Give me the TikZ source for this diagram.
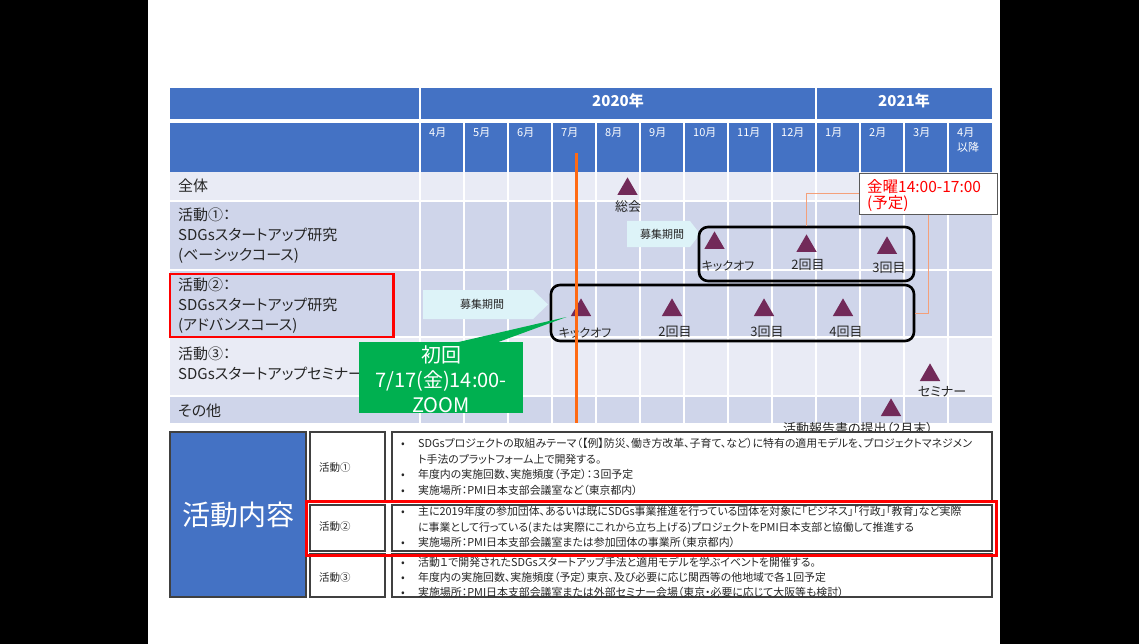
\documentclass[tikz,border=0pt]{standalone}
\usepackage{fontspec}
\setmainfont{Noto Sans CJK JP}[RawFeature=+palt]
\usetikzlibrary{shapes.geometric}
\definecolor{hdr}{HTML}{4472C4}
\definecolor{rowL}{HTML}{E9EBF5}
\definecolor{rowD}{HTML}{CFD5EA}
\definecolor{tricol}{HTML}{722A59}
\definecolor{cyanA}{HTML}{DDF3F8}
\definecolor{orangeA}{HTML}{FF6A13}
\definecolor{orangeT}{HTML}{F4A07A}
\definecolor{grn}{HTML}{00B050}
\definecolor{txt}{HTML}{262626}
\definecolor{boxgray}{HTML}{404040}
\definecolor{calgray}{HTML}{595959}
\definecolor{redA}{HTML}{FF0000}
\newcommand{\bulx}{\makebox[17pt][l]{•}}
\tikzset{
  trimark/.style={regular polygon, regular polygon sides=3, fill=tricol, draw=none,
    minimum size=23.5pt, inner sep=0pt, outer sep=0pt, anchor=south},
  trilab/.style={font=\fontsize{13}{15}\selectfont, text=txt, inner sep=0pt},
  rowlab/.style={anchor=base west, align=left, inner sep=0pt,
    font=\fontsize{15}{20}\selectfont, text=txt},
  month/.style={anchor=base west, align=left, inner sep=0pt, text=white,
    font=\fontsize{11}{15}\selectfont},
  yearlab/.style={inner sep=0pt, text=white, font=\fontsize{15}{17}\selectfont\bfseries},
  bosyu/.style={inner sep=0pt, text=txt, font=\fontsize{11}{13}\selectfont},
  rbox/.style={draw=black, line width=2.6pt, rounded corners=9pt, inner sep=0pt},
  gridline/.style={white, line width=2pt},
  thinor/.style={orangeT, line width=1pt},
  tbox/.style={draw=boxgray, line width=1.3pt, fill=white, inner sep=0pt},
  bultext/.style={anchor=base west, align=left, inner sep=0pt, text=txt,
    font=\fontsize{10.9}{15.5}\selectfont},
  smalllab/.style={anchor=west, inner sep=0pt, text=txt, font=\fontsize{10.5}{12}\selectfont},
}
\begin{document}
\begin{tikzpicture}[x=1pt,y=-1pt]
% background
\fill[black] (0,0) rectangle (1139,644);
\fill[white] (148,0) rectangle (1000,644);
\useasboundingbox (0,0) rectangle (1139,644);

% table backgrounds
\fill[hdr] (170,88) rectangle (992,119.5);
\fill[hdr] (170,123) rectangle (992,172);
\fill[rowL] (170,172) rectangle (992,201);
\fill[rowD] (170,201) rectangle (992,337);
\fill[rowL] (170,337) rectangle (992,396);
\fill[rowD] (170,396) rectangle (992,423);
% grid lines
\foreach \yy in {201,270,337,396} {\draw[gridline] (170,\yy) -- (992,\yy);}
\draw[gridline] (420,88) -- (420,423);
\draw[gridline] (816,88) -- (816,423);
\foreach \k in {1,...,8,10,11,12} {\draw[gridline] (420+44*\k,123) -- (420+44*\k,423);}

% header texts
\node[yearlab] (y2020) at (618,101) {2020年};
\node[yearlab] (y2021) at (904,101) {2021年};
\foreach \k/\lab in {0/4月,1/5月,2/6月,3/7月,4/8月,5/9月,6/10月,7/11月,8/12月,9/1月,10/2月,11/3月}
  {\node[month] (m\k) at (429+44*\k,137) {\lab};}
\node[month] (m12) at (957,152) {4月\\以降};

% row labels (anchor = baseline of last line)
\node[rowlab] (rzen) at (178,191.7) {全体};
\node[rowlab] (r1) at (178,260.7) {活動①：\\SDGsスタートアップ研究\\(ベーシックコース)};
\node[rowlab] (r2) at (178,330.2) {活動②：\\SDGsスタートアップ研究\\(アドバンスコース)};
\node[rowlab] (r3) at (178,379.5) {活動③：\\SDGsスタートアップセミナー};
\node[rowlab] (rsono) at (178,416.4) {その他};

% recruitment arrows
\fill[cyanA] (627,221) -- (690,221) -- (700,234) -- (690,247) -- (627,247) -- cycle;
\node[bosyu] (bos1) at (662,234) {募集期間};
\fill[cyanA] (423,290) -- (533,290) -- (548,304.5) -- (533,319) -- (423,319) -- cycle;
\node[bosyu] (bos2) at (482,304.5) {募集期間};

% rounded boxes
\node[rbox, minimum width=215pt, minimum height=54pt] (box1) at (806.5,254) {};
\node[rbox, minimum width=363pt, minimum height=56pt] (box2) at (732.5,313) {};

% milestones
\node[trimark] (tsoukai) at (627.5,195) {};
\node[trilab] (lsoukai) at (628,207) {総会};
\node[trimark] (ta1) at (714.5,249) {};
\node[trilab, font=\fontsize{12}{14}\selectfont] (la1) at (728,266) {キックオフ};
\node[trimark] (ta2) at (806.5,252) {};
\node[trilab] (la2) at (808,265) {2回目};
\node[trimark] (ta3) at (887,254) {};
\node[trilab] (la3) at (889,268) {3回目};
\node[trimark] (tb1m) at (581,316) {};
\node[trilab, font=\fontsize{12}{14}\selectfont] (lb1) at (585,333) {キックオフ};
\node[trimark] (tb2m) at (672,316) {};
\node[trilab] (lb2) at (675,332) {2回目};
\node[trimark] (tb3m) at (764,316) {};
\node[trilab] (lb3) at (767,332) {3回目};
\node[trimark] (tb4m) at (843,316) {};
\node[trilab] (lb4) at (846,332) {4回目};
\node[trimark] (tsem) at (930,381) {};
\node[trilab] (lsem) at (942,392) {セミナー};
\node[trimark] (trep) at (891,416) {};
\node[trilab] (lrep) at (858,428.5) {活動報告書の提出（2月末）};

% callout (Friday)
\node[draw=calgray, line width=1.2pt, fill=white, minimum width=138pt, minimum height=41pt, inner sep=0pt] (callout) at (928.5,194) {};
\node[anchor=base west, align=left, inner sep=0pt, text=redA, font=\fontsize{15.5}{17}\selectfont] (caltxt) at (867,209) {金曜14:00-17:00\\(予定)};
\draw[thinor] (callout.west) -| (box1.north);
\draw[thinor] (callout.south) |- (box2.east);

% red box around activity 2 label
\draw[redA, line width=2.6pt] (170,274) rectangle (393.5,337);

% green callout
\fill[grn] (359,342) rectangle (523,413);
\fill[grn] (456.5,342.5) -- (566.5,317) -- (497,342.5) -- cycle;
\node[align=center, inner sep=0pt, text=white, font=\fontsize{20}{25}\selectfont] (grntxt) at (441,379) {初回\\7/17(金)14:00-\\ZOOM};

% orange current line
\coordinate (otop) at (576.5,153);
\coordinate (obot) at (576.5,423);
\draw[orangeA, line width=3pt] (otop) -- (obot);

% bottom section
\node[draw=boxgray, line width=1.3pt, fill=hdr, minimum width=136pt, minimum height=165pt, inner sep=0pt,
  text=white, font=\fontsize{28}{30}\selectfont] (naiyou) at (238,514.5) {活動内容};
\node[tbox, minimum width=75pt, minimum height=69pt] (lab1) at (347.5,466.5) {};
\node[tbox, minimum width=75pt, minimum height=46pt] (lab2) at (347.5,528) {};
\node[tbox, minimum width=75pt, minimum height=43pt] (lab3) at (347.5,575.5) {};
\node[smalllab] (lab1t) at (319,468) {活動①};
\node[smalllab] (lab2t) at (319,527) {活動②};
\node[smalllab] (lab3t) at (319,578) {活動③};
\node[tbox, minimum width=600pt, minimum height=69pt] (tb1) at (692,466.5) {};
\node[tbox, minimum width=600pt, minimum height=46pt] (tb2) at (692,528) {};
\node[tbox, minimum width=600pt, minimum height=43pt] (tb3) at (692,575.5) {};
\node[bultext] (tx1) at (401,494) {\bulx SDGsプロジェクトの取組みテーマ（【例】防災、働き方改革、子育て、など）に特有の適用モデルを、プロジェクトマネジメン\\\hspace*{17pt}ト手法のプラットフォーム上で開発する。\\\bulx 年度内の実施回数、実施頻度（予定）：３回予定\\\bulx 実施場所：PMI日本支部会議室など（東京都内）};
\node[bultext] (tx2) at (401,546.5) {\bulx 主に2019年度の参加団体、あるいは既にSDGs事業推進を行っている団体を対象に「ビジネス」「行政」「教育」など実際\\\hspace*{17pt}に事業として行っている(または実際にこれから立ち上げる)プロジェクトをPMI日本支部と協働して推進する\\\bulx 実施場所：PMI日本支部会議室または参加団体の事業所（東京都内）};
\node[bultext, font=\fontsize{10.9}{15}\selectfont] (tx3) at (401,596.8) {\bulx 活動１で開発されたSDGsスタートアップ手法と適用モデルを学ぶイベントを開催する。\\\bulx 年度内の実施回数、実施頻度（予定）東京、及び必要に応じ関西等の他地域で各１回予定\\\bulx 実施場所：PMI日本支部会議室または外部セミナー会場（東京・必要に応じて大阪等も検討）};
\draw[redA, line width=2.6pt] (306.5,501.5) rectangle (996.5,555.5);
\end{tikzpicture}
\end{document}
